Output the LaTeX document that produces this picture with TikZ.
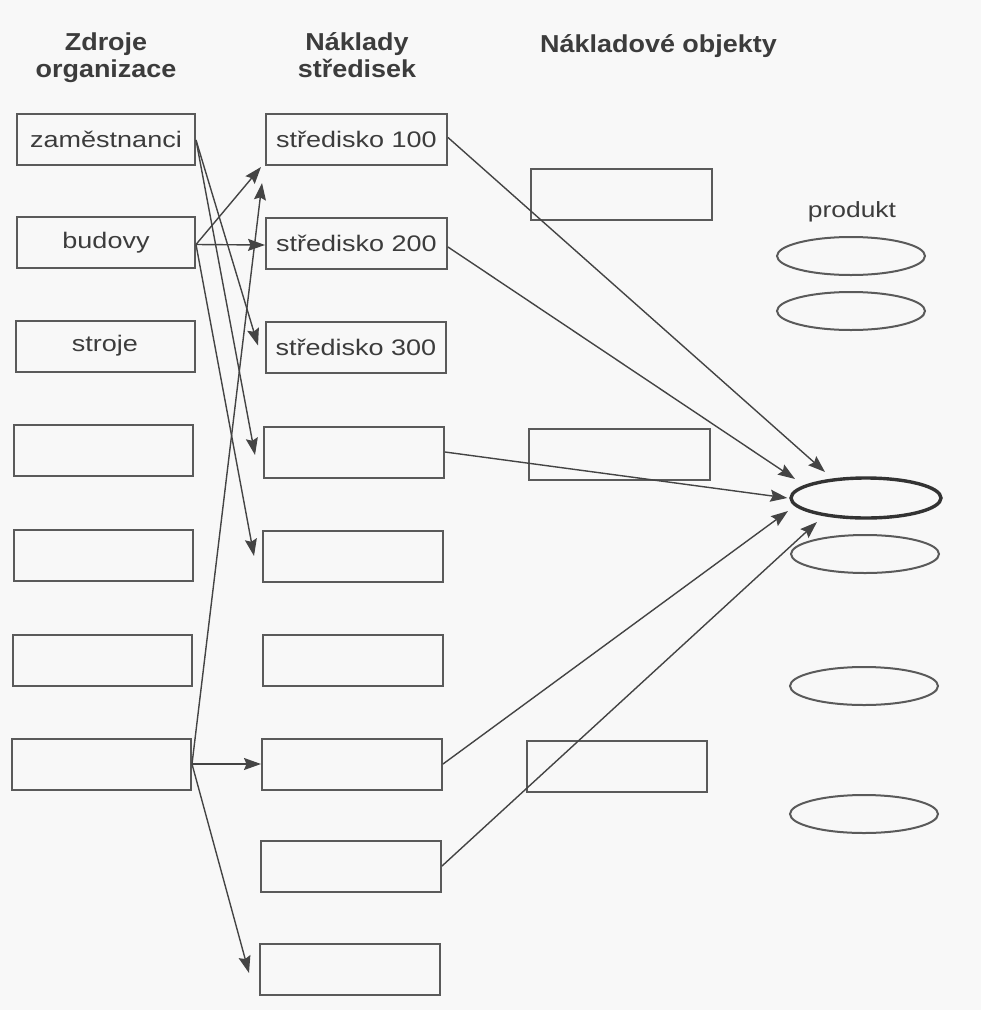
\documentclass[tikz,border=0pt]{standalone}
\usepackage{fontspec}
\setmainfont{Liberation Sans}
\newfontfamily\labelfont[FakeStretch=1.2]{Liberation Sans}
\newfontfamily\headfont[FakeStretch=1.1]{Liberation Sans Bold}
\usetikzlibrary{calc,arrows.meta,shapes.geometric}

\definecolor{paper}{HTML}{F8F8F8}
\definecolor{ink}{HTML}{3C3C3C}
\definecolor{frame}{HTML}{5A5A5A}
\definecolor{wire}{HTML}{444444}

\tikzset{
  costbox/.style={draw=frame, line width=2pt, rectangle, minimum width=180pt,
    minimum height=51pt, inner sep=0pt, text=ink,
    font=\labelfont\fontsize{22.5}{26}\selectfont},
  product/.style={draw=frame, line width=2pt, ellipse, minimum width=148pt,
    minimum height=38pt, inner sep=0pt},
  heading/.style={text=ink, align=center, inner sep=0pt,
    font=\headfont\fontsize{24.5}{27}\selectfont},
  flow/.style={draw=wire, line width=1.4pt,
    -{Stealth[length=17pt,width=12pt,inset=2.5pt]}},
}

\begin{document}
\begin{tikzpicture}[x=1pt, y=-1pt]
  % page with its pale paper tone
  \fill[paper] (0,0) rectangle (981,1010);
  \useasboundingbox (0,0) rectangle (981,1010);

  % column headings
  \node[heading, anchor=base] (hsrc) at (106,77) {Zdroje\\organizace};
  \node[heading, anchor=base] (hctr) at (357,77) {Náklady\\středisek};
  \node[heading, anchor=base west] (hobj) at (540,52) {Nákladové objekty};

  % resources of the organisation
  \node[costbox, minimum width=178pt] (L1) at (106,139) {zaměstnanci};
  \node[costbox, minimum width=178pt] (L2) at (106,242.5) {budovy};
  \node[costbox, minimum width=179pt] (L3) at (105,346) {stroje};
  \node[costbox, minimum width=179pt] (L4) at (103.5,450.5) {};
  \node[costbox, minimum width=179pt] (L5) at (103,555.5) {};
  \node[costbox, minimum width=179pt] (L6) at (102.5,660) {};
  \node[costbox, minimum width=179pt] (L7) at (101.5,764) {};

  % cost centres
  \node[costbox, minimum width=181pt] (M1) at (356.5,139.5) {středisko 100};
  \node[costbox, minimum width=181pt] (M2) at (356.5,243) {středisko 200};
  \node[costbox] (M3) at (356,347.5) {středisko 300};
  \node[costbox] (M4) at (354,452) {};
  \node[costbox] (M5) at (353,556) {};
  \node[costbox] (M6) at (353,660) {};
  \node[costbox] (M7) at (352,764) {};
  \node[costbox] (M8) at (351,866) {};
  \node[costbox] (M9) at (350,969) {};

  % cost objects
  \node[costbox, minimum width=181pt] (R1) at (621.5,194.5) {};
  \node[costbox, minimum width=181pt] (R2) at (619.5,454) {};
  \node[costbox] (R3) at (617,766) {};

  % products
  \node[text=ink, font=\labelfont\fontsize{22}{26}\selectfont, anchor=base]
    (plabel) at (852,217) {produkt};
  \node[product] (E1) at (851,256) {};
  \node[product] (E2) at (851,311) {};
  \node[product, minimum width=150pt, minimum height=40pt, line width=3.4pt,
    draw=black!80] (E0) at (866,498) {};
  \node[product] (E4) at (865,554) {};
  \node[product] (E5) at (864,686) {};
  \node[product] (E6) at (864,814) {};

  % resources -> cost centres
  \draw[flow] ($(L1.east)+(0,1)$) -- ($(M3.west)+(-7,-2)$);
  \draw[flow] ($(L1.east)+(0,1)$) -- ($(M4.west)+(-8,3)$);
  \draw[flow] ($(L2.east)+(0,2)$) -- ($(M1.south west)+(-4,1)$);
  \draw[flow] ($(L2.east)+(0,2)$) -- ($(M2.west)+(0,2)$);
  \draw[flow] ($(L2.east)+(0,2)$) -- ($(M5.west)+(-8,0)$);
  \draw[flow] (L7.east) -- ($(M1.south west)+(-3,17)$);
  \draw[flow] (L7.east) -- (M7.west);
  \draw[flow] (L7.east) -- ($(M9.west)+(-10,4)$);

  % cost centres -> product
  \draw[flow] ($(M1.east)+(0,-2)$) -- ($(E0.center)+(-41,-26)$);
  \draw[flow] ($(M2.east)+(0,4)$) -- ($(E0.center)+(-71,-19)$);
  \draw[flow] (M4.east) -- ($(E0.west)+(-2,0)$);
  \draw[flow] (M7.east) -- ($(E0.center)+(-78,13)$);
  \draw[flow] (M8.east) -- ($(E0.center)+(-49,24)$);
\end{tikzpicture}
\end{document}
